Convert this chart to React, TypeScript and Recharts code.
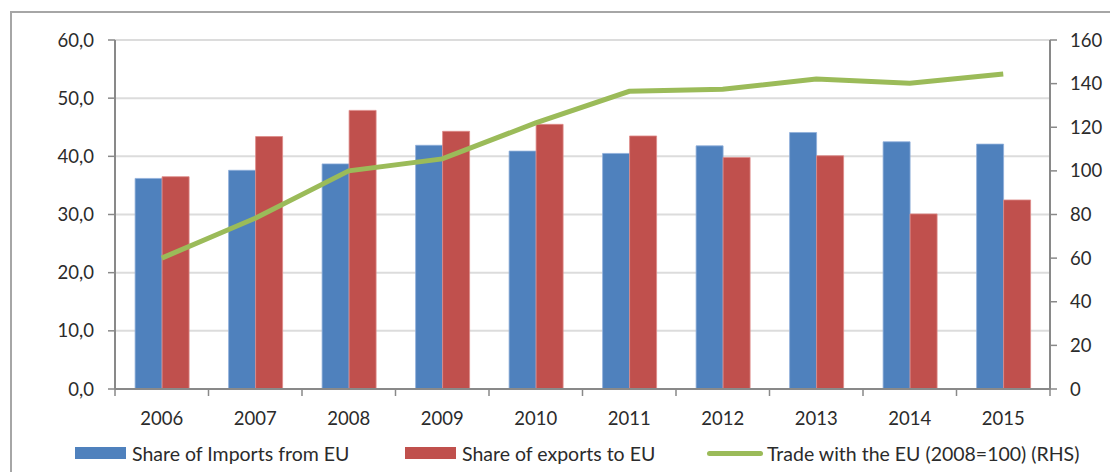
import React from 'react';
import { ComposedChart, Bar, Line, XAxis, YAxis, CartesianGrid, Legend } from 'recharts';

const years = ['2006', '2007', '2008', '2009', '2010', '2011', '2012', '2013', '2014', '2015'];
const importsShare = [36.2, 37.6, 38.7, 41.9, 40.9, 40.5, 41.8, 44.1, 42.5, 42.1];
const exportsShare = [36.5, 43.4, 47.9, 44.3, 45.5, 43.5, 39.8, 40.1, 30.1, 32.5];
const tradeIndex = [60, 78.3, 100, 105.5, 122, 136.5, 137.4, 142.1, 140.2, 144.4];
const leftTicks = [0, 10, 20, 30, 40, 50, 60];
const rightTicks = [0, 20, 40, 60, 80, 100, 120, 140, 160];

const data = years.map((year, i) => ({
  year,
  imports: importsShare[i],
  exports: exportsShare[i],
  trade: tradeIndex[i],
}));

const AXIS = '#898989';
const TEXT = '#2b2b2b';
const FONT = "Lato, 'Open Sans', sans-serif";

const YearTick = (props: any) => {
  const { x, y, payload, index, width } = props;
  const band = (width || 935) / years.length;
  const left = x - band / 2;
  return (
    <g>
      <line x1={left} x2={left} y1={y} y2={y + 7} stroke={AXIS} strokeWidth={1.5} />
      {index === years.length - 1 && (
        <line x1={x + band / 2} x2={x + band / 2} y1={y} y2={y + 7} stroke={AXIS} strokeWidth={1.5} />
      )}
      <text x={x} y={y + 36} textAnchor="middle" fontSize={18.5} fill={TEXT} fontFamily={FONT}>
        {payload.value}
      </text>
    </g>
  );
};

const itemWidths = [330, 302, 400];

const LegendContent = (props: any) => {
  const { payload = [] } = props;
  return (
    <div style={{ display: 'flex', height: 30, alignItems: 'center', paddingLeft: 75, fontFamily: FONT, fontSize: 19.5, color: TEXT }}>
      {payload.map((entry: any, i: number) => (
        <div key={entry.value} style={{ display: 'flex', alignItems: 'center', width: itemWidths[i] }}>
          {entry.type === 'line' ? (
            <span style={{ display: 'inline-block', width: 56, height: 5, borderRadius: 3, background: entry.color, marginRight: 4 }} />
          ) : (
            <span style={{ display: 'inline-block', width: 51, height: 12, background: entry.color, marginRight: 6 }} />
          )}
          <span>{entry.value}</span>
        </div>
      ))}
    </div>
  );
};

export default function App() {
  return (
    <div style={{ position: 'fixed', left: 0, top: 0, width: 1110, height: 472, overflow: 'hidden', background: '#fff', fontFamily: FONT }}>
      <div style={{ position: 'absolute', left: 10, top: 11, width: 1200, height: 600, border: '2px solid #A6A6A6' }} />
      <div style={{ position: 'absolute', left: 0, top: 0 }}>
        <ComposedChart
          width={1110}
          height={472}
          data={data}
          margin={{ top: 40, right: 0, left: 0, bottom: 4 }}
          barCategoryGap="21.5%"
          barGap={0}
        >
          <CartesianGrid yAxisId="left" vertical={false} stroke="#DCDCDC" strokeWidth={2} />
          <XAxis
            dataKey="year"
            height={49}
            tickLine={false}
            tickSize={0}
            tickMargin={0}
            axisLine={{ stroke: AXIS, strokeWidth: 2 }}
            tick={<YearTick />}
            interval={0}
          />
          <YAxis
            yAxisId="left"
            width={115}
            domain={[0, 60]}
            ticks={leftTicks}
            tickFormatter={(v: number) => v.toFixed(1).replace('.', ',')}
            tickSize={7}
            tickMargin={14}
            axisLine={{ stroke: AXIS, strokeWidth: 2 }}
            tickLine={{ stroke: AXIS, strokeWidth: 1.5 }}
            tick={{ fontSize: 18.5, fill: TEXT, fontFamily: FONT }}
          />
          <YAxis
            yAxisId="right"
            orientation="right"
            width={60}
            domain={[0, 160]}
            ticks={rightTicks}
            tickSize={7}
            tickMargin={13}
            axisLine={{ stroke: AXIS, strokeWidth: 2 }}
            tickLine={{ stroke: AXIS, strokeWidth: 1.5 }}
            tick={{ fontSize: 18.5, fill: TEXT, fontFamily: FONT, textAnchor: 'start' }}
          />
          <Bar yAxisId="left" dataKey="imports" name="Share of Imports from EU" fill="#4F81BD" stroke="#8FAEDB" strokeWidth={0.8} isAnimationActive={false} />
          <Bar yAxisId="left" dataKey="exports" name="Share of exports to EU" fill="#C0504D" stroke="#DE8A88" strokeWidth={0.8} isAnimationActive={false} />
          <Line
            yAxisId="right"
            type="linear"
            dataKey="trade"
            name="Trade with the EU (2008=100) (RHS)"
            stroke="#9BBB59"
            strokeWidth={5}
            dot={false}
            activeDot={false}
            legendType="line"
            isAnimationActive={false}
          />
          <Legend verticalAlign="bottom" height={30} content={<LegendContent />} />
        </ComposedChart>
      </div>
    </div>
  );
}
